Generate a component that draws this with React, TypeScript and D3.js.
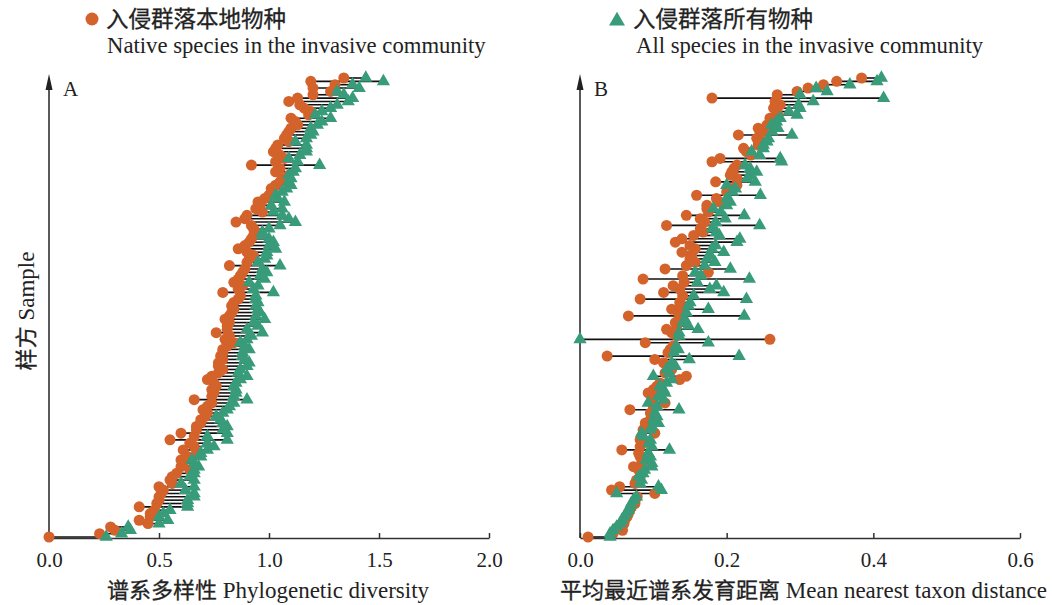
import React, { useRef, useEffect } from 'react';
import * as d3 from 'd3';

// rows go from bottom (index 0) to top
// A: phylogenetic diversity
const pdNative = [
  0.0, 0.23, 0.3, 0.28, 0.45, 0.41, 0.46, 0.46, 0.48, 0.41,
  0.49, 0.5, 0.5, 0.51, 0.52, 0.5, 0.56, 0.55, 0.56, 0.58,
  0.64, 0.6, 0.61, 0.6, 0.63, 0.67, 0.61, 0.66, 0.64, 0.55,
  0.66, 0.6, 0.67, 0.67, 0.69, 0.69, 0.71, 0.72, 0.7, 0.72,
  0.74, 0.66, 0.74, 0.75, 0.74, 0.76, 0.75, 0.72, 0.74, 0.77,
  0.79, 0.77, 0.77, 0.79, 0.78, 0.79, 0.79, 0.81, 0.84, 0.8,
  0.82, 0.76, 0.81, 0.81, 0.82, 0.8, 0.82, 0.83, 0.84, 0.83,
  0.84, 0.86, 0.87, 0.79, 0.86, 0.88, 0.84, 0.86, 0.87, 0.88,
  0.89, 0.82, 0.9, 0.91, 0.93, 0.9, 0.86, 0.89, 0.91, 0.92,
  0.93, 0.94, 0.93, 0.92, 0.85, 0.89, 0.9, 0.97, 0.94, 0.96,
  0.95, 0.98, 1.0, 1.02, 1.01, 1.03, 1.05, 1.06, 1.09, 1.03,
  1.05, 0.92, 1.03, 1.07, 1.05, 1.02, 1.03, 1.04, 1.09, 1.07,
  1.08, 1.09, 1.1, 1.13, 1.12, 1.1, 1.18, 1.19, 1.16, 1.14,
  1.09, 1.13, 1.2, 1.28, 1.2, 1.3, 1.19, 1.34,
];
const pdAll = [
  0.26, 0.33, 0.37, 0.36, 0.5, 0.54, 0.5, 0.52, 0.55, 0.63,
  0.63, 0.63, 0.66, 0.66, 0.62, 0.66, 0.6, 0.66, 0.64, 0.66,
  0.66, 0.68, 0.66, 0.65, 0.69, 0.69, 0.72, 0.75, 0.72, 0.81,
  0.72, 0.81, 0.79, 0.81, 0.79, 0.78, 0.76, 0.79, 0.81, 0.82,
  0.84, 0.9, 0.84, 0.85, 0.85, 0.84, 0.85, 0.87, 0.9, 0.86,
  0.87, 0.9, 0.91, 0.89, 0.88, 0.88, 0.91, 0.89, 0.87, 0.9,
  0.92, 0.97, 0.9, 0.95, 0.93, 0.98, 0.94, 0.96, 0.95, 0.94,
  0.95, 0.94, 0.94, 1.02, 0.93, 0.95, 0.91, 0.98, 0.96, 0.99,
  0.97, 1.05, 0.95, 0.98, 0.99, 0.99, 1.03, 1.0, 1.02, 1.0,
  0.97, 0.97, 1.0, 1.05, 1.12, 1.09, 1.06, 1.02, 1.06, 1.01,
  1.07, 1.04, 1.03, 1.06, 1.08, 1.1, 1.09, 1.1, 1.09, 1.11,
  1.12, 1.23, 1.13, 1.09, 1.14, 1.17, 1.17, 1.17, 1.12, 1.17,
  1.19, 1.2, 1.19, 1.22, 1.24, 1.28, 1.21, 1.24, 1.28, 1.31,
  1.36, 1.38, 1.34, 1.31, 1.41, 1.38, 1.52, 1.44,
];

// B: mean nearest taxon distance
const mntdNative = [
  0.011, 0.045, 0.058, 0.052, 0.06, 0.061, 0.064, 0.066, 0.068, 0.07,
  0.075, 0.075, 0.078, 0.102, 0.043, 0.054, 0.075, 0.077, 0.082, 0.084,
  0.08, 0.073, 0.084, 0.086, 0.082, 0.08, 0.057, 0.082, 0.086, 0.082,
  0.084, 0.102, 0.086, 0.089, 0.089, 0.096, 0.098, 0.096, 0.068, 0.1,
  0.116, 0.098, 0.098, 0.093, 0.1, 0.105, 0.109, 0.136, 0.145, 0.116,
  0.125, 0.12, 0.114, 0.102, 0.037, 0.12, 0.123, 0.127, 0.089, 0.259,
  0.132, 0.125, 0.118, 0.132, 0.13, 0.136, 0.066, 0.134, 0.125, 0.138,
  0.136, 0.082, 0.14, 0.114, 0.136, 0.127, 0.142, 0.086, 0.14, 0.175,
  0.116, 0.145, 0.157, 0.15, 0.152, 0.139, 0.157, 0.15, 0.13, 0.139,
  0.155, 0.168, 0.164, 0.118, 0.17, 0.164, 0.145, 0.175, 0.173, 0.173,
  0.19, 0.186, 0.159, 0.2, 0.205, 0.214, 0.185, 0.214, 0.205, 0.207,
  0.21, 0.214, 0.18, 0.191, 0.233, 0.227, 0.223, 0.243, 0.247, 0.241,
  0.216, 0.25, 0.243, 0.255, 0.262, 0.259, 0.27, 0.268, 0.264, 0.273,
  0.266, 0.18, 0.269, 0.296, 0.311, 0.332, 0.35, 0.384,
];
const mntdAll = [
  0.041, 0.041, 0.045, 0.05, 0.055, 0.057, 0.06, 0.063, 0.066, 0.068,
  0.07, 0.073, 0.077, 0.05, 0.111, 0.107, 0.082, 0.084, 0.08, 0.086,
  0.088, 0.098, 0.098, 0.09, 0.096, 0.093, 0.122, 0.098, 0.094, 0.096,
  0.086, 0.084, 0.096, 0.098, 0.107, 0.1, 0.105, 0.102, 0.135, 0.105,
  0.093, 0.114, 0.107, 0.116, 0.114, 0.109, 0.118, 0.125, 0.1, 0.122,
  0.118, 0.13, 0.125, 0.149, 0.217, 0.128, 0.134, 0.131, 0.175, 0.0,
  0.135, 0.135, 0.161, 0.148, 0.14, 0.143, 0.224, 0.145, 0.175, 0.148,
  0.15, 0.227, 0.155, 0.196, 0.177, 0.186, 0.16, 0.231, 0.165, 0.157,
  0.205, 0.17, 0.184, 0.173, 0.178, 0.196, 0.18, 0.185, 0.214, 0.218,
  0.19, 0.186, 0.18, 0.245, 0.185, 0.198, 0.224, 0.192, 0.182, 0.2,
  0.205, 0.2, 0.246, 0.208, 0.212, 0.2, 0.239, 0.228, 0.232, 0.241,
  0.232, 0.225, 0.275, 0.273, 0.245, 0.234, 0.25, 0.25, 0.255, 0.257,
  0.289, 0.262, 0.27, 0.261, 0.268, 0.273, 0.296, 0.285, 0.3, 0.298,
  0.318, 0.414, 0.3, 0.337, 0.322, 0.368, 0.405, 0.411,
];

const pdTicks = [0, 0.5, 1, 1.5, 2];
const mntdTicks = [0, 0.2, 0.4, 0.6];

const ORANGE = '#d3622b';
const GREEN = '#389b79';
const SERIF = '"Liberation Serif", "Times New Roman", serif';
const CJK = '"Noto Sans CJK SC", sans-serif';

type Panel = {
  native: number[];
  all: number[];
  domain: [number, number];
  ticks: number[];
  left: number;
  right: number;
  letter: string;
  cn: string;
  en: string;
  titleX: number;
};

// chinese part a touch heavier, like the figure
const cjk = (s: d3.Selection<any, unknown, null, undefined>, size: number) =>
  s
    .attr('font-family', CJK)
    .attr('font-size', size)
    .attr('stroke', '#222')
    .attr('stroke-width', 0.3);

const drawPanel = (svg: d3.Selection<SVGSVGElement, unknown, null, undefined>, p: Panel) => {
  const bottom = 538;
  const x = d3.scaleLinear().domain(p.domain).range([p.left, p.right]);
  const y = d3.scaleLinear().domain([0, p.native.length - 1]).range([537, 78]);
  const rows = p.native.map((v, i) => ({ i, n: v, a: p.all[i] }));

  const g = svg.append('g');

  // axes
  const ax = g
    .append('g')
    .attr('transform', `translate(0,${bottom})`)
    .call(
      d3
        .axisBottom(x)
        .tickValues(p.ticks)
        .tickSize(-5)
        .tickSizeOuter(0)
        .tickPadding(14)
        .tickFormat(d3.format('.1f'))
    )
    .attr('font-family', SERIF)
    .attr('font-size', 21);
  ax.select('.domain').attr('stroke', '#333').attr('stroke-width', 1.5);
  ax.selectAll('line').attr('stroke', '#333').attr('stroke-width', 1.5);
  ax.selectAll('text').attr('fill', '#222');

  g.append('line')
    .attr('x1', p.left)
    .attr('x2', p.left)
    .attr('y1', bottom)
    .attr('y2', 88)
    .attr('stroke', '#222')
    .attr('stroke-width', 1.5);
  g.append('path')
    .attr('d', `M${p.left},74 L${p.left - 3.5},90 L${p.left + 3.5},90 Z`)
    .attr('fill', '#222');

  g.append('text')
    .attr('x', p.left + 14)
    .attr('y', 96)
    .attr('font-family', SERIF)
    .attr('font-size', 21)
    .attr('fill', '#222')
    .text(p.letter);

  // segments
  g.append('g')
    .selectAll('line')
    .data(rows)
    .join('line')
    .attr('x1', (d) => x(d.n))
    .attr('x2', (d) => x(d.a))
    .attr('y1', (d) => y(d.i))
    .attr('y2', (d) => y(d.i))
    .attr('stroke', '#111')
    .attr('stroke-width', 1.6);

  g.append('g')
    .selectAll('circle')
    .data(rows)
    .join('circle')
    .attr('cx', (d) => x(d.n))
    .attr('cy', (d) => y(d.i))
    .attr('r', 5.5)
    .attr('fill', ORANGE);

  const tri = d3.symbol(d3.symbolTriangle, 76);
  g.append('g')
    .selectAll('path')
    .data(rows)
    .join('path')
    .attr('d', tri)
    .attr('transform', (d) => `translate(${x(d.a)},${y(d.i)})`)
    .attr('fill', GREEN);

  const t = g.append('text').attr('x', p.titleX).attr('y', 598).attr('fill', '#222');
  cjk(t.append('tspan'), 22).text(p.cn);
  t.append('tspan').attr('font-family', SERIF).attr('font-size', 23).text(' ' + p.en);
};

const App: React.FC = () => {
  const ref = useRef<SVGSVGElement | null>(null);

  useEffect(() => {
    if (!ref.current) return;
    const svg = d3.select(ref.current);
    svg.selectAll('*').remove();

    drawPanel(svg, {
      native: pdNative,
      all: pdAll,
      domain: [0, 2],
      ticks: pdTicks,
      left: 49,
      right: 489,
      letter: 'A',
      cn: '谱系多样性',
      en: 'Phylogenetic diversity',
      titleX: 107,
    });
    drawPanel(svg, {
      native: mntdNative,
      all: mntdAll,
      domain: [0, 0.6],
      ticks: mntdTicks,
      left: 580,
      right: 1020,
      letter: 'B',
      cn: '平均最近谱系发育距离',
      en: 'Mean nearest taxon distance',
      titleX: 560,
    });

    // y title
    const yt = svg
      .append('text')
      .attr('transform', 'translate(34,311) rotate(-90)')
      .attr('text-anchor', 'middle')
      .attr('fill', '#222');
    cjk(yt.append('tspan'), 22).text('样方');
    yt.append('tspan').attr('font-family', SERIF).attr('font-size', 23).text(' Sample');

    // legend
    const lg = svg.append('g');
    lg.append('circle').attr('cx', 92).attr('cy', 19).attr('r', 6.5).attr('fill', ORANGE);
    cjk(
      lg.append('text').attr('x', 106).attr('y', 27).attr('fill', '#222'),
      22.5
    ).text('入侵群落本地物种');
    lg.append('text')
      .attr('x', 107)
      .attr('y', 53)
      .attr('font-family', SERIF)
      .attr('font-size', 22.7)
      .attr('fill', '#222')
      .text('Native species in the invasive community');
    lg.append('path')
      .attr('d', d3.symbol(d3.symbolTriangle, 110)())
      .attr('transform', 'translate(617,21)')
      .attr('fill', GREEN);
    cjk(
      lg.append('text').attr('x', 633).attr('y', 27).attr('fill', '#222'),
      22.5
    ).text('入侵群落所有物种');
    lg.append('text')
      .attr('x', 636)
      .attr('y', 53)
      .attr('font-family', SERIF)
      .attr('font-size', 22.7)
      .attr('fill', '#222')
      .text('All species in the invasive community');
  }, []);

  return (
    <svg
      ref={ref}
      width={1052}
      height={605}
      style={{ position: 'absolute', left: 0, top: 0, background: '#fff' }}
    />
  );
};

export default App;
